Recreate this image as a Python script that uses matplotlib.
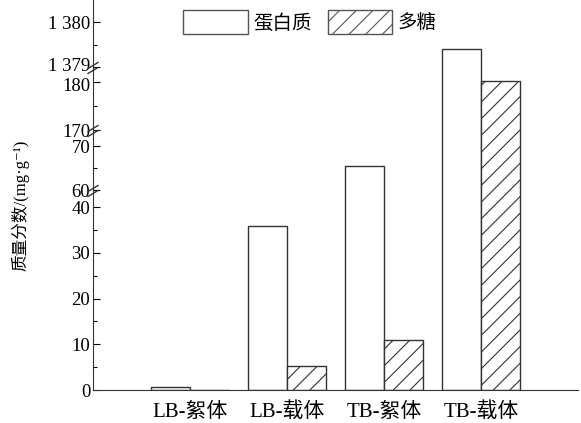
import numpy as np
import matplotlib
matplotlib.use("Agg")
import matplotlib.pyplot as plt
import matplotlib.transforms as mtransforms

plt.rcParams['font.family'] = ['Liberation Serif', 'Noto Sans CJK SC', 'DejaVu Sans']
plt.rcParams['hatch.linewidth'] = 0.8

categories = ['LB-絮体', 'LB-载体', 'TB-絮体', 'TB-载体']
protein = [0.6, 35.8, 65.5, 1379.4]
polysaccharide = [0.0, 5.3, 11.0, 180.2]

# broken y axis: (low, high, major step) per segment, bottom first
segments = [(0, 43.5, 10), (59.8, 73.5, 10), (169.8, 182.9, 10), (1378.98, 1380.49, 1)]
# pixel rows (top, bottom) of each segment in a 581x423 figure
seg_rows = [(191, 390), (131, 191), (68, 131), (0, 68)]

W, H = 581, 423
fig = plt.figure(figsize=(W / 100, H / 100), dpi=100)

x = np.arange(len(categories))
bw = 0.4
left, right = 93, 578
axes = []
for (lo, hi, step), (r0, r1) in zip(segments, seg_rows):
    ax = fig.add_axes([left / W, (H - r1) / H, (right - left) / W, (r1 - r0) / H])
    ax.bar(x - bw / 2, protein, bw, facecolor='white', edgecolor='#333333', linewidth=1.0)
    ax.bar(x + bw / 2, polysaccharide, bw, facecolor='white', edgecolor='#333333',
           linewidth=1.0, hatch='//')
    ax.set_xlim(-1, 4)
    major = np.arange(np.ceil(lo / step) * step, hi, step)
    ax.set_yticks(major)
    ax.set_yticks(np.arange(major[0] - step / 2, hi, step), minor=True)
    ax.set_ylim(lo, hi)
    if step == 1:
        ax.set_yticklabels([f'{int(v) // 1000} {int(v) % 1000:03d}' for v in major])
    else:
        ax.set_yticklabels([f'{int(v)}' for v in major])
    ax.tick_params(axis='y', which='major', direction='in', length=5, width=0.8,
                   labelsize=13.5, pad=2)
    ax.tick_params(axis='y', which='minor', direction='in', length=3, width=0.8)
    for s in ['top', 'right']:
        ax.spines[s].set_visible(False)
    ax.spines['left'].set_color('#333333')
    ax.spines['bottom'].set_color('#333333')
    ax.patch.set_alpha(0)
    axes.append(ax)

for ax in axes[1:]:
    ax.spines['bottom'].set_visible(False)
    ax.set_xticks([])

axes[0].set_xticks(x)
axes[0].set_xticklabels(categories, fontsize=15)
axes[0].tick_params(axis='x', length=0, pad=9)

# keep "1 379" and "180" from running into each other at the break
lab = axes[3].get_yticklabels()[0]
lab.set_transform(lab.get_transform() + mtransforms.ScaledTranslation(0, 2 / 72, fig.dpi_scale_trans))
lab = axes[2].get_yticklabels()[-1]
lab.set_transform(lab.get_transform() + mtransforms.ScaledTranslation(0, -1.5 / 72, fig.dpi_scale_trans))

# break marks on the left spine
for r in [191, 131, 68]:
    yb = (H - r) / H
    for dy in (-2.5, 2.5):
        fig.add_artist(plt.Line2D([(left - 5) / W, (left + 5) / W],
                                  [yb + (dy - 3) / H, yb + (dy + 3) / H],
                                  color='#333333', linewidth=1.0))

fig.text(20 / W, (H - 205) / H, '质量分数/(mg·g⁻¹)', rotation=90,
         ha='center', va='center', fontsize=12)

handles = [plt.Rectangle((0, 0), 1, 1, facecolor='white', edgecolor='#555555'),
           plt.Rectangle((0, 0), 1, 1, facecolor='white', edgecolor='#555555', hatch='//')]
fig.legend(handles, ['蛋白质', '多糖'], ncol=2, frameon=False, fontsize=14,
           loc='center', bbox_to_anchor=(310 / W, (H - 22) / H),
           handlelength=3.3, handleheight=1.5, columnspacing=0.8, handletextpad=0.3)

fig.savefig('out.png', dpi=100)
